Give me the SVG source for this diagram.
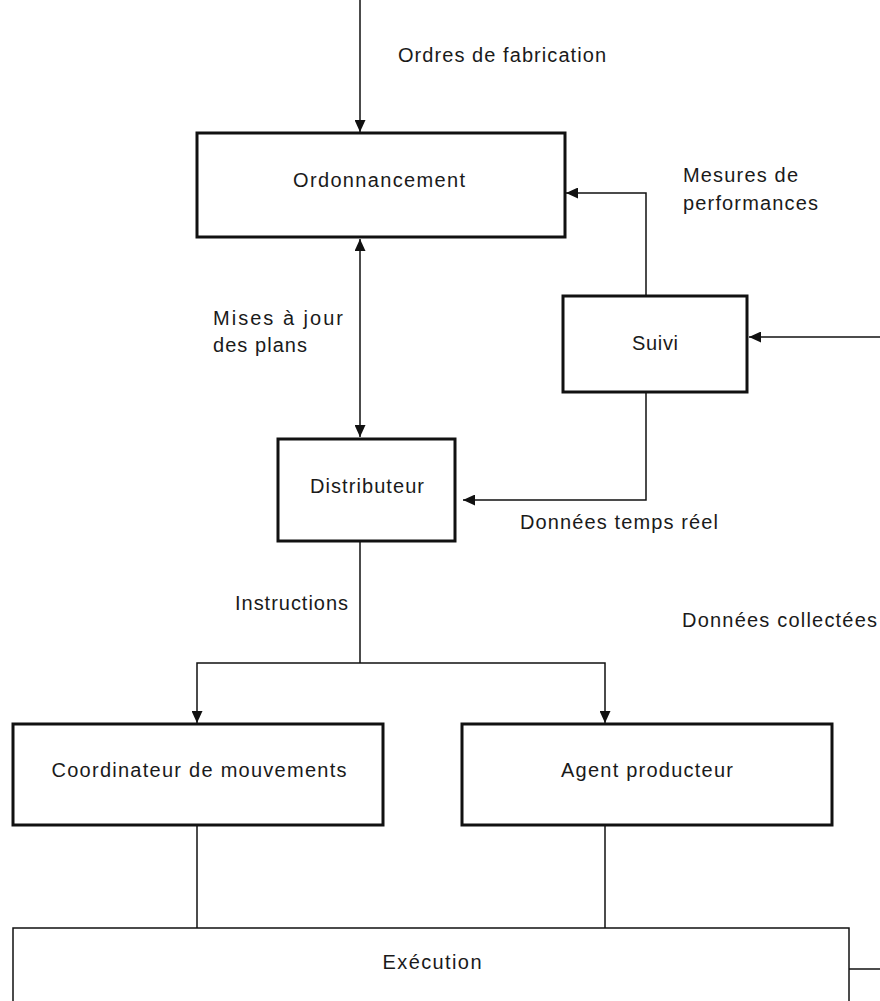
<svg xmlns="http://www.w3.org/2000/svg" width="880" height="1001" viewBox="0 0 880 1001">
<style>
.box{fill:#fff;stroke:#111;stroke-width:3}
.thin{fill:#fff;stroke:#111;stroke-width:1.5}
.con{fill:none;stroke:#111;stroke-width:1.5}
text{font-family:"Liberation Sans",Arial,sans-serif;font-size:20px;fill:#1a1a1a}
.c{text-anchor:middle}
</style>
<defs>
<marker id="ah" viewBox="0 0 12 11" refX="12" refY="5.5" markerWidth="12" markerHeight="11" markerUnits="userSpaceOnUse" orient="auto-start-reverse">
<path d="M0,0 L12,5.5 L0,11 z" fill="#111"/>
</marker>
</defs>
<rect width="880" height="1001" fill="#fff"/>
<g id="connectors">
<path class="con" d="M360,0 V132" marker-end="url(#ah)"/>
<path class="con" d="M360,239 V437" marker-start="url(#ah)" marker-end="url(#ah)"/>
<path class="con" d="M646,296 V193 H566" marker-end="url(#ah)"/>
<path class="con" d="M880,337 H749" marker-end="url(#ah)"/>
<path class="con" d="M646,392 V500 H463" marker-end="url(#ah)"/>
<path class="con" d="M360,541 V663"/>
<path class="con" d="M197,723 V663 H605 V723" marker-start="url(#ah)" marker-end="url(#ah)"/>
<path class="con" d="M197,825 V928"/>
<path class="con" d="M605,825 V928"/>
<path class="con" d="M849,969 H880"/>
</g>
<g id="ordonnancement">
<rect class="box" x="197" y="133" width="368" height="104"/>
<text x="379" y="187" class="c" textLength="172">Ordonnancement</text>
</g>
<g id="suivi">
<rect class="box" x="563" y="296" width="184" height="96"/>
<text x="655" y="350" class="c" textLength="46">Suivi</text>
</g>
<g id="distributeur">
<rect class="box" x="278" y="439" width="177" height="102"/>
<text x="367" y="493" class="c" textLength="114">Distributeur</text>
</g>
<g id="coordinateur">
<rect class="box" x="13" y="724" width="370" height="101"/>
<text x="199" y="777" class="c" textLength="295">Coordinateur de mouvements</text>
</g>
<g id="agent">
<rect class="box" x="462" y="724" width="370" height="101"/>
<text x="647" y="777" class="c" textLength="172">Agent producteur</text>
</g>
<g id="execution">
<rect class="thin" x="13" y="928" width="836" height="100"/>
<text x="432" y="969" class="c" textLength="99">Exécution</text>
</g>
<g id="labels">
<text x="398" y="62" textLength="208">Ordres de fabrication</text>
<text x="683" y="182" textLength="115">Mesures de</text>
<text x="683" y="210" textLength="135">performances</text>
<text x="213" y="325" textLength="130">Mises à jour</text>
<text x="213" y="352" textLength="94">des plans</text>
<text x="520" y="529" textLength="198">Données temps réel</text>
<text x="235" y="610" textLength="113">Instructions</text>
<text x="682" y="627" textLength="195">Données collectées</text>
</g>
</svg>
